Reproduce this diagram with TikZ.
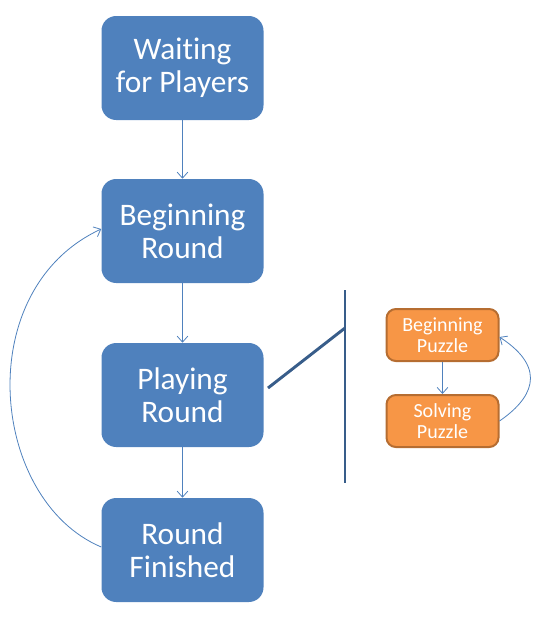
\documentclass[tikz,border=0pt]{standalone}
\usepackage{fontspec}
\setmainfont[Ligatures=NoCommon]{Carlito}
\usetikzlibrary{arrows.meta}
\definecolor{bluebox}{HTML}{4F81BD}
\definecolor{orbox}{HTML}{F79646}
\definecolor{orline}{HTML}{B66D31}
\definecolor{darkline}{HTML}{385D8A}
\tikzset{
  bigbox/.style={fill=bluebox, draw=none, rounded corners=11pt, minimum width=121.5pt, minimum height=78pt, text=white, align=center, font=\fontsize{23.5}{24.5}\selectfont, inner sep=0pt},
  smallbox/.style={fill=orbox, draw=orline, line width=1.5pt, rounded corners=7pt, minimum width=84pt, minimum height=39pt, text=white, align=center, font=\fontsize{15}{15.5}\selectfont, inner sep=0pt},
  conn/.style={draw=bluebox, line width=0.6pt, -{Straight Barb[length=4.5pt,width=8pt]}},
}
\begin{document}
\begin{tikzpicture}[x=0.75pt,y=-0.75pt]
\useasboundingbox (0,0) rectangle (551,622);
\node[bigbox] (wait) at (182.5,68) {Waiting\\for Players};
\node[bigbox] (begin) at (182.5,231) {Beginning\\Round};
\node[bigbox] (play) at (182.5,395) {Playing\\Round};
\node[bigbox] (fin) at (182.5,550) {Round\\Finished};
\node[smallbox] (bpuz) at (442.5,335) {Beginning\\Puzzle};
\node[smallbox] (spuz) at (442.5,421) {Solving\\Puzzle};
\coordinate (vtop) at (345,290);
\coordinate (vbot) at (345,483);
\coordinate (vmid) at (345,328);
\coordinate (pr) at (268,388);
\draw[darkline, line width=2.2pt] (vtop) -- (vbot);
\draw[darkline, line width=2.2pt] (pr) -- (vmid);
\draw[conn] (wait) -- (begin);
\draw[conn] (begin) -- (play);
\draw[conn] (play) -- (fin);
\draw[conn] (bpuz) -- (spuz);
\draw[conn] (fin.west |- 0,547) .. controls (-10,500) and (-30,290) .. (begin.west |- 0,229);
\draw[conn] (spuz.east) .. controls (530,400) and (550,370) .. (bpuz.east |- 0,337);
\end{tikzpicture}
\end{document}
